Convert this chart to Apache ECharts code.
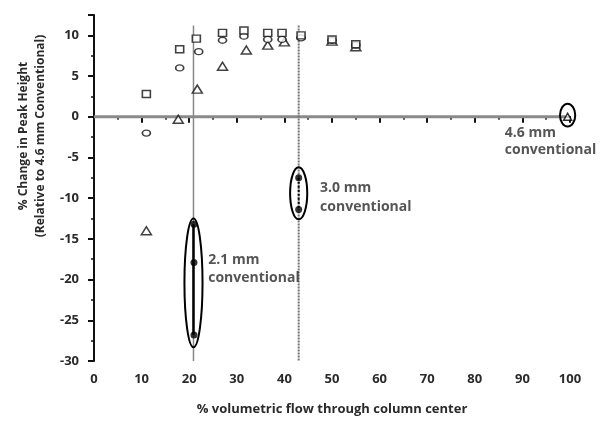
<!DOCTYPE html>
<html><head><meta charset="utf-8">
<script src="https://cdn.jsdelivr.net/npm/echarts@6/dist/echarts.min.js"></script>
<style>html,body{margin:0;padding:0;background:#fff}#c{width:600px;height:424px}</style>
</head><body><div id="c"></div>
<script>
// Data (x = % volumetric flow through column center, y = % change in peak height)
const squares = [[11,2.8],[18,8.3],[21.5,9.6],[27,10.3],[31.5,10.6],[36.5,10.3],[39.5,10.3],[43.5,10.0],[50,9.5],[55,8.9]];
const circles = [[11,-2.0],[18,6.0],[22,8.0],[27,9.4],[31.5,9.9],[36.5,9.5],[39.5,9.5],[43.5,9.7],[50,9.4],[55,8.8]];
const triangles = [[11,-14.0],[17.7,-0.3],[21.7,3.4],[27,6.2],[32,8.2],[36.5,8.8],[40,9.2],[50,9.3],[55,8.6]];
const conventionalFilled = [[21,-13.2],[21,-17.9],[21,-26.8],[43,-7.5],[43,-11.4]];
const conventional46 = [[99.5,0]];
// ellipses: [centerX, centerY, halfWidth, halfHeight]
const ellipses = [[20.9,-20.4,1.9,7.9],[43,-9.4,1.8,3.2],[99.5,0.2,1.6,1.4]];
const line21 = [[20.9,11.2],[20.9,-30]];
const line43 = [[43,11.2],[43,-30]];
const zeroLine = [[0,0],[99,0]];
const inner21 = [[20.9,-13.2],[20.9,-26.8]];
const inner30 = [[43,-7.5],[43,-11.4]];
const annotations = [
  {value:[86.3,-2.0], text:'4.6 mm'}, {value:[86.3,-4.1], text:'conventional'},
  {value:[47.5,-8.8], text:'3.0 mm'}, {value:[47.5,-11.1], text:'conventional'},
  {value:[24,-17.6], text:'2.1 mm'}, {value:[24,-19.8], text:'conventional'}
];
const xTicks = [0,10,20,30,40,50,60,70,80,90,100];
const yTicks = [-30,-25,-20,-15,-10,-5,0,5,10];

const FONT = 'Open Sans';
const TXT = '#2a2a2a';
const chart = echarts.init(document.getElementById('c'));
const hollow = {color:'#fff', borderColor:'#111', borderWidth:1.5};
chart.setOption({
  animation:false,
  grid:{left:94, right:30, top:15, bottom:63},
  xAxis:{type:'value', min:0, max:100, interval:10,
    name:'% volumetric flow through column center', nameLocation:'middle', nameGap:42,
    nameTextStyle:{fontFamily:FONT, fontSize:13, fontWeight:'bold', color:TXT},
    axisLine:{lineStyle:{color:'#111', width:2}},
    axisTick:{length:6, lineStyle:{color:'#111', width:2}},
    minorTick:{show:true, splitNumber:2, length:3, lineStyle:{color:'#111', width:1.5}},
    axisLabel:{fontFamily:FONT, fontSize:13, fontWeight:'bold', color:TXT, margin:12,
      formatter:v=>xTicks.includes(v)?String(v):''},
    splitLine:{show:false}},
  yAxis:{type:'value', min:-30, max:12.5, interval:5,
    name:'% Change in Peak Height\n(Relative to 4.6 mm Conventional)', nameLocation:'middle', nameGap:41,
    nameTextStyle:{fontFamily:FONT, fontSize:12, fontWeight:'bold', color:TXT, lineHeight:17, padding:[0,0,0,104]},
    axisLine:{lineStyle:{color:'#111', width:2}},
    axisTick:{length:6, lineStyle:{color:'#111', width:2}},
    minorTick:{show:true, splitNumber:2, length:3, lineStyle:{color:'#111', width:1.5}},
    axisLabel:{fontFamily:FONT, fontSize:13, fontWeight:'bold', color:TXT, margin:15, showMaxLabel:false,
      formatter:v=>yTicks.includes(v)?String(v):''},
    splitLine:{show:false}},
  series:[
    {type:'line', data:zeroLine, symbol:'none', lineStyle:{color:'#8a8a8a', width:3}, z:1},
    {type:'line', data:line21, symbol:'none', lineStyle:{color:'#888', width:1.5}, z:1},
    {type:'line', data:line43, symbol:'none', lineStyle:{color:'#777', width:2, type:[2,1]}, z:1},
    {type:'line', data:inner21, symbol:'none', lineStyle:{color:'#000', width:2.5}, z:2},
    {type:'line', data:inner30, symbol:'none', lineStyle:{color:'#000', width:2, type:'dotted'}, z:2},
    {type:'custom', data:ellipses, encode:{x:0,y:1}, clip:false, z:3,
      renderItem:function(params, api){
        const c = api.coord([api.value(0), api.value(1)]);
        const e = api.coord([api.value(0)+api.value(2), api.value(1)+api.value(3)]);
        return {type:'ellipse', shape:{cx:c[0], cy:c[1], rx:Math.abs(e[0]-c[0]), ry:Math.abs(e[1]-c[1])},
          style:{fill:'none', stroke:'#000', lineWidth:2}};
      }},
    {type:'scatter', data:triangles, symbol:'triangle', symbolSize:[10,8], itemStyle:hollow, z:4},
    {type:'scatter', data:circles, symbol:'circle', symbolSize:[8,6], itemStyle:hollow, z:5},
    {type:'scatter', data:squares, symbol:'rect', symbolSize:[8,7], itemStyle:hollow, z:6},
    {type:'scatter', data:conventionalFilled, symbol:'circle', symbolSize:7, itemStyle:{color:'#000'}, z:7},
    {type:'scatter', data:conventional46, symbol:'triangle', symbolSize:[8,7], itemStyle:{color:'#fff', borderColor:'#000', borderWidth:1.5}, z:7},
    {type:'scatter', data:annotations, symbolSize:0, z:8, clip:false,
      label:{show:true, position:'right', distance:0, formatter:p=>p.data.text,
        fontFamily:FONT, fontSize:14, fontWeight:'bold', color:TXT}}
  ]
});
</script></body></html>
